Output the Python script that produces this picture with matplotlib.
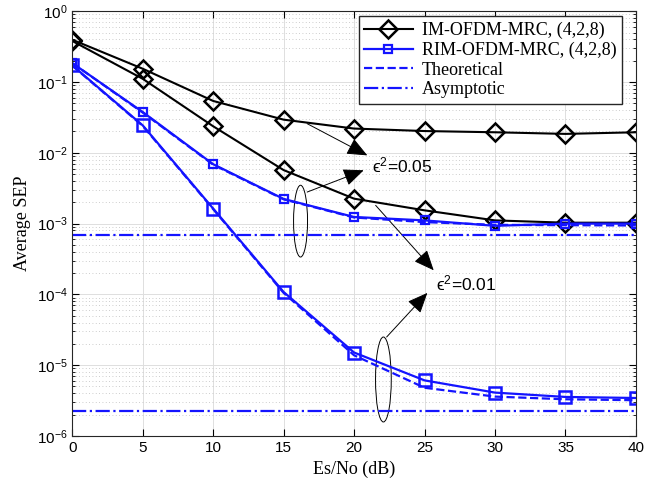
import numpy as np
import matplotlib
matplotlib.use('Agg')
import matplotlib.pyplot as plt
from matplotlib.patches import Ellipse, FancyArrowPatch
from matplotlib.ticker import LogLocator, NullFormatter, MultipleLocator

plt.rcParams['font.family'] = ['Liberation Sans', 'DejaVu Sans']
plt.rcParams['mathtext.fontset'] = 'custom'
plt.rcParams['mathtext.rm'] = 'Liberation Sans'
plt.rcParams['mathtext.it'] = 'Liberation Sans:italic'
plt.rcParams['mathtext.bf'] = 'Liberation Sans:bold'

snr = [0, 5, 10, 15, 20, 25, 30, 35, 40]

# simulated, eps^2 = 0.05 / 0.01
im_005 = [0.396, 0.154, 0.054, 0.0294, 0.022, 0.0203, 0.0195, 0.0185, 0.0195]
im_001 = [0.38, 0.111, 0.0237, 0.0057, 0.00225, 0.00154, 0.00111, 0.00103, 0.00103]
rim_005 = [0.185, 0.0377, 0.0069, 0.00223, 0.00124, 0.00111, 0.00093, 0.001, 0.001]
rim_001 = [0.172, 0.0244, 0.00163, 0.000108, 1.51e-5, 6.1e-6, 4.1e-6, 3.56e-6, 3.44e-6]

# theory
th_005 = [0.185, 0.037, 0.0068, 0.0022, 0.00122, 0.00105, 0.00096, 0.00095, 0.00094]
th_001 = [0.17, 0.024, 0.0016, 0.000105, 1.38e-5, 4.8e-6, 3.6e-6, 3.3e-6, 3.2e-6]

# asymptotes
asy_005 = 6.8e-4
asy_001 = 2.23e-6

blue = '#1414ff'

fig = plt.figure(figsize=(6.6, 4.88), dpi=100)
ax = fig.add_axes([0.1095, 0.1066, 0.854, 0.8704])

ax.semilogy(snr, im_005, '-D', color='k', lw=1.5, ms=9, mfc='none', mew=1.8,
            label='IM-OFDM-MRC, (4,2,8)')
ax.semilogy(snr, im_001, '-D', color='k', lw=1.5, ms=9, mfc='none', mew=1.8)
ax.semilogy(snr, rim_005, '-s', color=blue, lw=1.6, ms=6, mfc='none', mew=1.6,
            label='RIM-OFDM-MRC, (4,2,8)')
ax.semilogy(snr, rim_001, '-s', color=blue, lw=1.6, ms=9, mfc='none', mew=1.8)
ax.semilogy(snr, th_005, '--', color=blue, lw=1.6, label='Theoretical')
ax.semilogy(snr, th_001, '--', color=blue, lw=1.6)
ax.axhline(asy_005, color=blue, ls='-.', lw=1.6, label='Asymptotic')
ax.axhline(asy_001, color=blue, ls='-.', lw=1.6)

ax.set_xlim(0, 40)
ax.set_ylim(1e-6, 1)
ax.xaxis.set_major_locator(MultipleLocator(5))
ax.yaxis.set_major_locator(LogLocator(base=10, numticks=10))
ax.yaxis.set_minor_locator(LogLocator(base=10, subs=np.arange(2, 10), numticks=20))
ax.yaxis.set_minor_formatter(NullFormatter())
ax.tick_params(which='both', direction='in', top=True, right=True, labelsize=11)
ax.tick_params(which='major', length=5)
ax.tick_params(which='minor', length=2.5)
ax.grid(True, which='major', color='#dedede', lw=0.7)
ax.grid(True, which='minor', axis='y', color='#bdbdbd', lw=0.6, ls=(0, (1, 3)))
ax.set_axisbelow(True)
for s in ax.spines.values():
    s.set_linewidth(0.8)
    s.set_color('#262626')

ax.set_xlabel('Es/No (dB)', fontsize=13, family=['Liberation Serif'])
ax.set_ylabel('Average SEP', fontsize=13, family=['Liberation Serif'])

ax.legend(loc='upper right', bbox_to_anchor=(0.975, 0.988), fancybox=False,
          edgecolor='#262626', framealpha=1, handlelength=2.7,
          prop={'family': 'Liberation Serif', 'size': 13},
          borderpad=0.3, labelspacing=0.15, handletextpad=0.5, borderaxespad=0)

# ellipses
ax.add_patch(Ellipse((0.405, 0.5058), 0.0248, 0.169, transform=ax.transAxes,
                     fill=False, ec='k', lw=0.7))
ax.add_patch(Ellipse((0.552, 0.133), 0.0279, 0.2, transform=ax.transAxes,
                     fill=False, ec='k', lw=0.7))

# arrows
arrows = [((16.67, 2.79e-3), (20.68, 5.66e-3)),
          ((16.67, 2.58e-2), (20.94, 9.2e-3)),
          ((21.53, 1.81e-3), (25.65, 2.19e-4)),
          ((22.31, 2.5e-5), (25.2, 1.05e-4))]
for a, b in arrows:
    ax.add_patch(FancyArrowPatch(a, b, arrowstyle='-|>,head_length=0.7,head_width=0.3',
                                 mutation_scale=18, color='k', lw=0.7,
                                 shrinkA=0, shrinkB=0))

ax.text(21.3, 6.65e-3, '\u03f5$^2$=0.05', fontsize=12.5, va='center', ha='left',
        family=['Liberation Sans', 'DejaVu Sans'])
ax.text(25.8, 1.44e-4, '\u03f5$^2$=0.01', fontsize=12.5, va='center', ha='left',
        family=['Liberation Sans', 'DejaVu Sans'])

fig.savefig('out.png', dpi=100)
